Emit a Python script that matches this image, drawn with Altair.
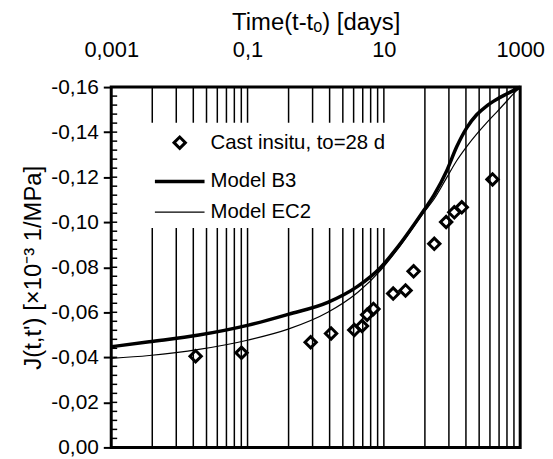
import altair as alt
import pandas as pd

# ---- data ----
b3_t = [0.001, 0.00361, 0.0193, 0.103, 0.394, 1.505, 4.115, 8.89, 15.72, 38.9, 54.3,
        84.0, 117.5, 164.2, 229.6, 321, 449, 628, 1000]
b3_j = [-0.0447, -0.0469, -0.0499, -0.0543, -0.0591, -0.0644, -0.0715, -0.0798, -0.0887,
        -0.1054, -0.1120, -0.1230, -0.1336, -0.1419, -0.1477, -0.1516, -0.1545, -0.1569, -0.1600]

ec2_t = [0.001, 0.00361, 0.0193, 0.103, 0.394, 1.505, 4.115, 8.89, 15.72, 38.9, 54.3,
         84.0, 117.5, 164.2, 229.6, 321, 449, 628, 820, 1000]
ec2_j = [-0.0395, -0.0408, -0.0435, -0.0477, -0.0525, -0.0600, -0.0688, -0.0785, -0.0878,
         -0.1045, -0.1102, -0.1199, -0.1274, -0.1336, -0.1391, -0.1441, -0.1488, -0.1536,
         -0.1574, -0.1600]

pt_t = [0.0173, 0.0815, 0.843, 1.68, 3.68, 4.78, 5.69, 7.03, 13.7, 20.8, 27.3,
        54.9, 82.0, 108, 139, 393]
pt_j = [-0.0405, -0.0420, -0.0467, -0.0506, -0.0521, -0.0539, -0.0589, -0.0615, -0.0683,
        -0.0697, -0.0782, -0.0904, -0.1001, -0.1044, -0.1066, -0.1190]

grid_t = [0.004, 0.009, 0.016, 0.025, 0.036, 0.049, 0.064, 0.081, 0.1,
          0.4, 0.9, 1.6, 2.5, 3.6, 4.9, 6.4, 8.1, 10,
          40, 90, 160, 250, 360, 490, 640, 810]

x_ticks = [0.001, 0.1, 10, 1000]
y_ticks = [-0.16, -0.14, -0.12, -0.10, -0.08, -0.06, -0.04, -0.02, 0.0]
y_minor = [round(-0.16 + 0.004 * i, 3) for i in range(41)]

legend_labels = ["Cast insitu, to=28 d", "Model B3", "Model EC2"]

FONT = "Liberation Sans"

x_scale = alt.Scale(type="log", domain=[0.001, 1000], nice=False)
y_scale = alt.Scale(domain=[-0.16, 0], reverse=True, nice=False, zero=False)

x_axis = alt.Axis(orient="top", values=x_ticks, labelExpr="replace(toString(datum.value), '.', ',')",
                  ticks=False, domain=False, grid=False, labelFlush=False, labelPadding=26,
                  labelFontSize=22, titleFontSize=24, titlePadding=4, labelFont=FONT, titleFont=FONT)
y_axis = alt.Axis(values=y_ticks,
                  labelExpr="replace(replace(format(datum.value, '.2f'), '.', ','), '\u2212', '-')",
                  tickSize=8, tickWidth=2, tickColor="black", domain=False, grid=False,
                  labelPadding=5, labelFontSize=21, titleFontSize=24, titlePadding=5,
                  labelFont=FONT, titleFont=FONT)

X_TITLE = "Time(t-t\u2092) [days]"
Y_TITLE = "J(t,t') [\u00d710\u207b\u00b3 1/MPa]"


def X():
    return alt.X("t:Q", scale=x_scale, axis=x_axis, title=X_TITLE)


def Y():
    return alt.Y("J:Q", scale=y_scale, axis=y_axis, title=Y_TITLE)


df_b3 = pd.DataFrame({"t": b3_t, "J": b3_j})
df_ec2 = pd.DataFrame({"t": ec2_t, "J": ec2_j})
df_pts = pd.DataFrame({"t": pt_t, "J": pt_j})
df_grid = pd.DataFrame({"t": grid_t})
df_minor = pd.DataFrame({"J": y_minor})
one = pd.DataFrame({"k": [0]})

grid = alt.Chart(df_grid).mark_rule(color="black", strokeWidth=1.5).encode(x=X())
minor = alt.Chart(df_minor).mark_rule(color="black", strokeWidth=1.5).encode(
    y=Y(), x=alt.value(0), x2=alt.value(6))

leg_bg = alt.Chart(one).mark_rect(fill="white").encode(
    x=alt.value(33), x2=alt.value(283), y=alt.value(36), y2=alt.value(142))
leg_pt = alt.Chart(one).mark_point(shape="diamond", filled=False, size=130, strokeWidth=3,
                                   color="black", opacity=1).encode(x=alt.value(69), y=alt.value(56))
leg_b3 = alt.Chart(one).mark_rule(color="black", strokeWidth=3.5).encode(
    x=alt.value(44), x2=alt.value(94), y=alt.value(95))
leg_ec2 = alt.Chart(one).mark_rule(color="black", strokeWidth=1.2).encode(
    x=alt.value(44), x2=alt.value(94), y=alt.value(126))
leg_txt = [
    alt.Chart(one).mark_text(align="left", baseline="middle", fontSize=20.5, font=FONT,
                             color="black").encode(x=alt.value(100), y=alt.value(yy),
                                                   text=alt.value(lab))
    for lab, yy in zip(legend_labels, [56, 95, 126])
]

line_b3 = alt.Chart(df_b3).mark_line(color="black", strokeWidth=3.5, interpolate="monotone").encode(
    x=X(), y=Y())
line_ec2 = alt.Chart(df_ec2).mark_line(color="black", strokeWidth=1.2, interpolate="monotone").encode(
    x=X(), y=Y())
pts = alt.Chart(df_pts).mark_point(shape="diamond", filled=False, size=130, strokeWidth=3,
                                   color="black", opacity=1).encode(x=X(), y=Y())

chart = alt.layer(grid, minor, leg_bg, leg_pt, leg_b3, leg_ec2, *leg_txt, line_ec2, line_b3, pts).properties(
    width=412, height=363,
    autosize=alt.AutoSizeParams(type="none"),
    padding={"left": 104, "top": 78, "right": 25, "bottom": 10},
    background="white",
).configure_view(stroke="black", strokeWidth=3).configure_axis(
    labelColor="black", titleColor="black", titleFontWeight="normal")

chart.save("out.html", embed_options={"renderer": "svg", "actions": False})
